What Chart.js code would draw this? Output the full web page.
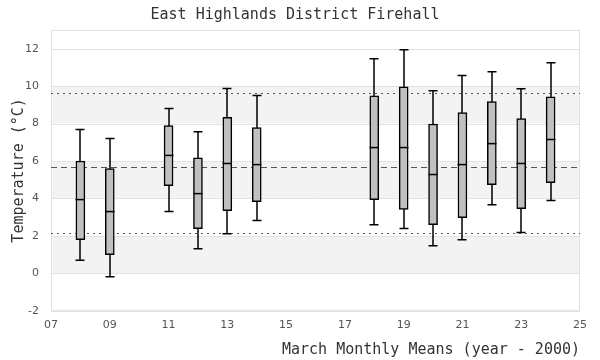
<!DOCTYPE html>
<html>
<head>
<meta charset="utf-8">
<script src="https://cdn.jsdelivr.net/npm/chart.js@4"></script>
<style>
  html, body { margin: 0; padding: 0; background: #fff; }
  #wrap { width: 600px; height: 360px; }
</style>
</head>
<body>
<div id="wrap"><canvas id="c"></canvas></div>
<script>
const years = [8, 9, 11, 12, 13, 14, 18, 19, 20, 21, 22, 23, 24];
const lows = [0.70, -0.18, 3.30, 1.32, 2.12, 2.82, 2.60, 2.39, 1.48, 1.80, 3.67, 2.18, 3.89];
const q1s = [1.80, 1.00, 4.69, 2.39, 3.35, 3.83, 3.94, 3.41, 2.60, 2.98, 4.74, 3.46, 4.85];
const medians = [3.94, 3.30, 6.30, 4.26, 5.87, 5.81, 6.72, 6.72, 5.28, 5.81, 6.93, 5.87, 7.15];
const q3s = [6.00, 5.60, 7.90, 6.17, 8.33, 7.79, 9.48, 9.96, 7.98, 8.59, 9.18, 8.27, 9.43];
const highs = [7.68, 7.20, 8.80, 7.56, 9.88, 9.50, 11.46, 11.94, 9.75, 10.57, 10.77, 9.86, 11.25];

// mean and +/- one standard deviation
const refLines = [9.66, 5.68, 2.18];
const refDash = [[2, 4], [6, 4], [2, 4]];
// shaded bands
const bands = [[0, 2], [4, 6], [8, 10]];

const xTickLabels = ['07', '09', '11', '13', '15', '17', '19', '21', '23', '25'];
const yTickLabels = ['-2', '0', '2', '4', '6', '8', '10', '12'];

const mono = "'DejaVu Sans Mono', monospace";
const CAP = 9;

const boxPlugin = {
    id: 'boxPlugin',
    beforeDatasetsDraw(chart) {
        const ctx = chart.ctx;
        const a = chart.chartArea;
        const x = chart.scales.x, y = chart.scales.y;
        ctx.save();
        // bands
        ctx.fillStyle = '#f3f3f3';
        bands.forEach(b => {
            const top = y.getPixelForValue(b[1]);
            const bot = y.getPixelForValue(b[0]);
            ctx.fillRect(a.left, top, a.right - a.left, bot - top);
        });
        // grid lines over bands
        ctx.strokeStyle = '#e2e2e2';
        ctx.lineWidth = 1;
        y.ticks.forEach(t => {
            const py = Math.round(y.getPixelForValue(t.value)) + 0.5;
            ctx.beginPath();
            ctx.moveTo(a.left, py);
            ctx.lineTo(a.right, py);
            ctx.stroke();
        });
        ctx.strokeRect(a.left + 0.5, a.top + 0.5, a.right - a.left - 1, a.bottom - a.top - 1);
        // reference lines
        ctx.strokeStyle = '#555';
        refLines.forEach((v, i) => {
            const py = Math.round(y.getPixelForValue(v)) + 0.5;
            ctx.setLineDash(refDash[i]);
            ctx.beginPath();
            ctx.moveTo(a.left, py);
            ctx.lineTo(a.right, py);
            ctx.stroke();
        });
        ctx.setLineDash([]);
        // whiskers
        ctx.strokeStyle = '#000';
        ctx.lineWidth = 1.5;
        years.forEach((yr, i) => {
            const px = Math.round(x.getPixelForValue(yr));
            const lo = y.getPixelForValue(lows[i]);
            const hi = y.getPixelForValue(highs[i]);
            ctx.beginPath();
            ctx.moveTo(px, lo);
            ctx.lineTo(px, hi);
            ctx.moveTo(px - CAP / 2, lo);
            ctx.lineTo(px + CAP / 2, lo);
            ctx.moveTo(px - CAP / 2, hi);
            ctx.lineTo(px + CAP / 2, hi);
            ctx.stroke();
        });
        ctx.restore();
    },
    afterDatasetsDraw(chart) {
        const ctx = chart.ctx;
        const x = chart.scales.x, y = chart.scales.y;
        ctx.save();
        ctx.strokeStyle = '#000';
        ctx.lineWidth = 1.5;
        years.forEach((yr, i) => {
            const px = Math.round(x.getPixelForValue(yr));
            const py = y.getPixelForValue(medians[i]);
            ctx.beginPath();
            ctx.moveTo(px - CAP / 2, py);
            ctx.lineTo(px + CAP / 2, py);
            ctx.stroke();
        });
        ctx.restore();
    }
};

new Chart(document.getElementById('c'), {
    type: 'bar',
    data: {
        datasets: [{
            label: 'IQR',
            data: years.map((yr, i) => ({ x: yr, y: [q1s[i], q3s[i]] })),
            backgroundColor: '#c0c0c0',
            borderColor: '#000',
            borderWidth: 1.5,
            borderSkipped: false,
            barThickness: 9
        }]
    },
    options: {
        responsive: true,
        maintainAspectRatio: false,
        animation: false,
        layout: { padding: { left: 10, right: 20, top: 0, bottom: 1 } },
        plugins: {
            legend: { display: false },
            tooltip: { enabled: false },
            title: {
                display: true,
                text: 'East Highlands District Firehall',
                font: { family: mono, size: 15, weight: 'normal' },
                color: '#333',
                padding: { top: 6, bottom: 6 }
            }
        },
        scales: {
            x: {
                type: 'linear',
                min: 7,
                max: 25,
                offset: false,
                grid: { display: false, drawTicks: false },
                border: { display: false },
                ticks: {
                    stepSize: 2,
                    color: '#555',
                    font: { family: "'DejaVu Sans', sans-serif", size: 11 },
                    padding: 8,
                    maxRotation: 0,
                    callback: (v) => xTickLabels[(v - 7) / 2]
                },
                title: {
                    display: true,
                    text: 'March Monthly Means (year - 2000)',
                    align: 'end',
                    font: { family: mono, size: 15 },
                    color: '#333',
                    padding: { top: 1, bottom: 0 }
                }
            },
            y: {
                min: -2,
                max: 13,
                grid: { display: false, drawTicks: false },
                border: { display: false },
                afterBuildTicks: (s) => { s.ticks = s.ticks.filter(t => t.value <= 12); },
                afterFit: (s) => { s.width = 41; },
                ticks: {
                    stepSize: 2,
                    color: '#555',
                    font: { family: "'DejaVu Sans', sans-serif", size: 11 },
                    padding: 12,
                    callback: (v) => yTickLabels[(v + 2) / 2]
                },
                title: {
                    display: true,
                    text: 'Temperature (°C)',
                    font: { family: mono, size: 15 },
                    color: '#333',
                    padding: { top: 0, bottom: 0 }
                }
            }
        }
    },
    plugins: [boxPlugin]
});
</script>
</body>
</html>
